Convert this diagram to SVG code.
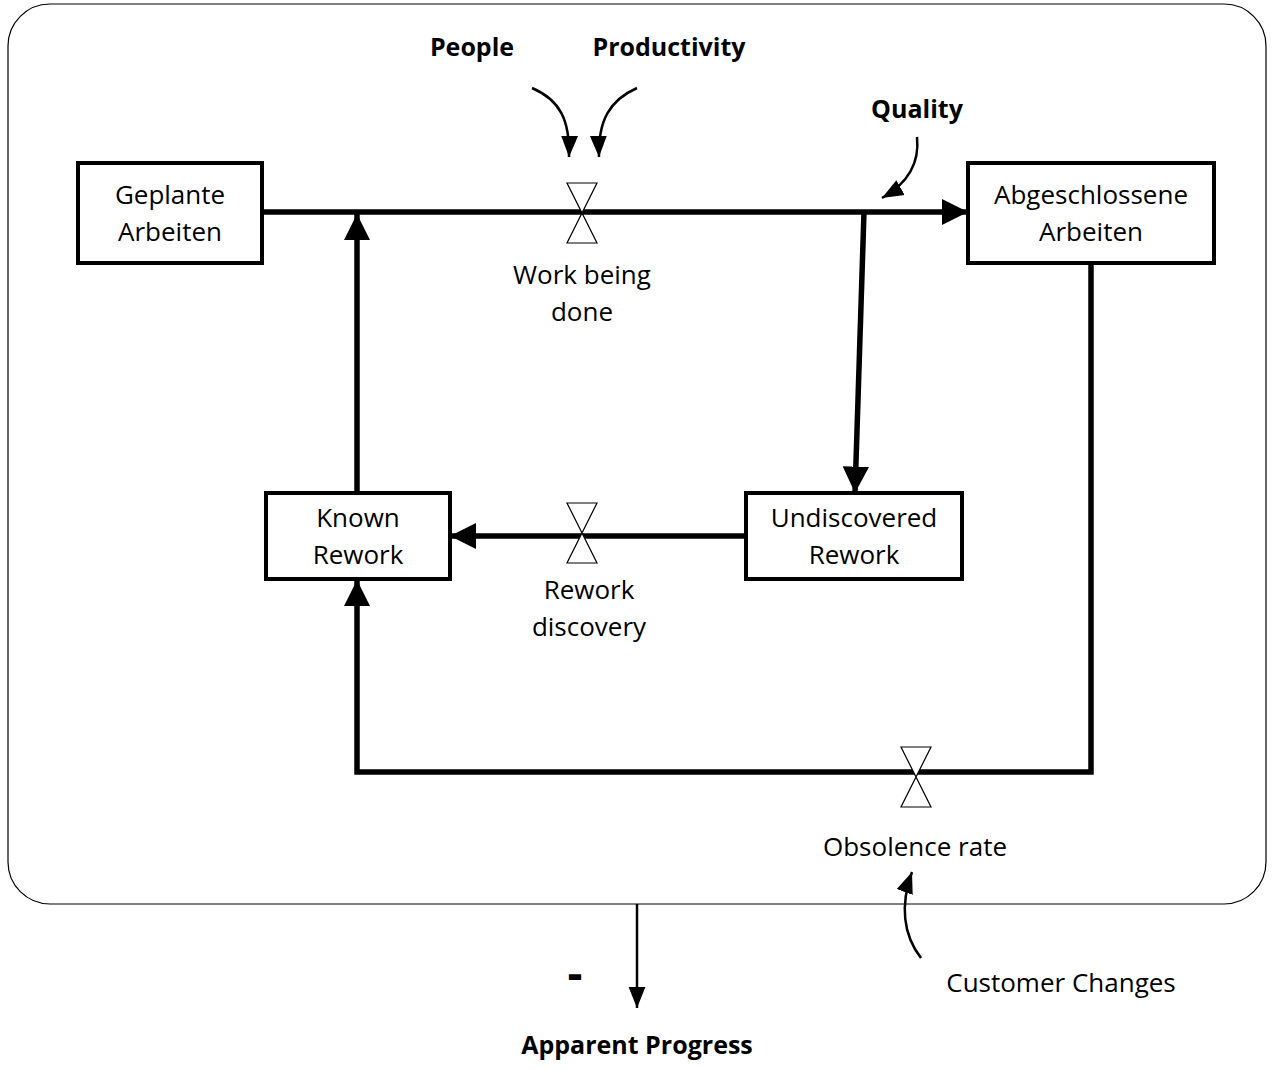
<svg xmlns="http://www.w3.org/2000/svg" width="1276" height="1070" viewBox="0 0 1276 1070">
<defs>
<style>
.box{fill:#fff;stroke:#000;stroke-width:4}
.flow{fill:none;stroke:#000;stroke-width:5.5}
.link{fill:none;stroke:#000;stroke-width:2.5}
.valve{fill:#fff;stroke:#000;stroke-width:1.2}
.t{font-family:"Open Sans","Liberation Sans",sans-serif;font-size:26px;fill:#000;text-anchor:middle}
.b{font-family:"Open Sans","Liberation Sans",sans-serif;font-size:25px;font-weight:bold;fill:#000;text-anchor:middle}
</style>
<marker id="big" viewBox="0 0 10 10" refX="10" refY="5" markerWidth="4.8" markerHeight="4.8" markerUnits="strokeWidth" orient="auto"><path d="M0,0L10,5L0,10Z" fill="#000"/></marker>
<marker id="small" viewBox="0 0 10 10" refX="10" refY="5" markerWidth="8.5" markerHeight="8.5" markerUnits="strokeWidth" orient="auto"><path d="M0,1L10,5L0,9Z" fill="#000"/></marker>
</defs>
<rect x="8" y="4" width="1258" height="900" rx="42" fill="#fff" stroke="#000" stroke-width="1.2"/>
<g id="connectors">
<line class="flow" x1="262" y1="212" x2="968" y2="212" marker-end="url(#big)"/>
<line class="flow" x1="357" y1="493" x2="357" y2="214" marker-end="url(#big)"/>
<line class="flow" x1="864" y1="212" x2="855" y2="493" marker-end="url(#big)"/>
<line class="flow" x1="746" y1="536" x2="450" y2="536" marker-end="url(#big)"/>
<polyline class="flow" points="1091,263 1091,772 357,772 357,580" marker-end="url(#big)"/>
<path class="link" d="M532,88 C560,100 570,120 569,157" marker-end="url(#small)"/>
<path class="link" d="M637,88 C610,100 598,120 599,157" marker-end="url(#small)"/>
<path class="link" d="M917,137 C920,165 905,185 882,198" marker-end="url(#small)"/>
<path class="link" d="M921,958 C903,935 900,905 912,872" marker-end="url(#small)"/>
<line class="link" x1="637" y1="904" x2="637" y2="1008" marker-end="url(#small)"/>
</g>
<g id="valve-work"><path class="valve" d="M567,183H597L567,243H597Z"/></g>
<g id="valve-rework"><path class="valve" d="M567,503H597L567,563H597Z"/></g>
<g id="valve-obsolence"><path class="valve" d="M901,747H931L901,807H931Z"/></g>
<g id="geplante"><rect class="box" x="78" y="163" width="184" height="100"/><text class="t" x="170" y="204">Geplante</text><text class="t" x="170" y="241">Arbeiten</text></g>
<g id="abgeschlossene"><rect class="box" x="968" y="163" width="246" height="100"/><text class="t" x="1091" y="204">Abgeschlossene</text><text class="t" x="1091" y="241">Arbeiten</text></g>
<g id="known"><rect class="box" x="266" y="493" width="184" height="86"/><text class="t" x="358" y="527">Known</text><text class="t" x="358" y="564">Rework</text></g>
<g id="undiscovered"><rect class="box" x="746" y="493" width="216" height="86"/><text class="t" x="854" y="527">Undiscovered</text><text class="t" x="854" y="564">Rework</text></g>
<g id="labels">
<text class="t" x="582" y="284">Work being</text><text class="t" x="582" y="321">done</text>
<text class="t" x="589" y="599">Rework</text><text class="t" x="589" y="636">discovery</text>
<text class="t" x="915" y="856">Obsolence rate</text>
<text class="t" x="1061" y="992">Customer Changes</text>
<text class="b" x="472" y="56">People</text>
<text class="b" x="669" y="56">Productivity</text>
<text class="b" x="917" y="118">Quality</text>
<text class="b" x="637" y="1054">Apparent Progress</text>
<text class="b" x="575" y="990" style="font-size:48px;font-family:'Liberation Sans',sans-serif">-</text>
</g>
</svg>
